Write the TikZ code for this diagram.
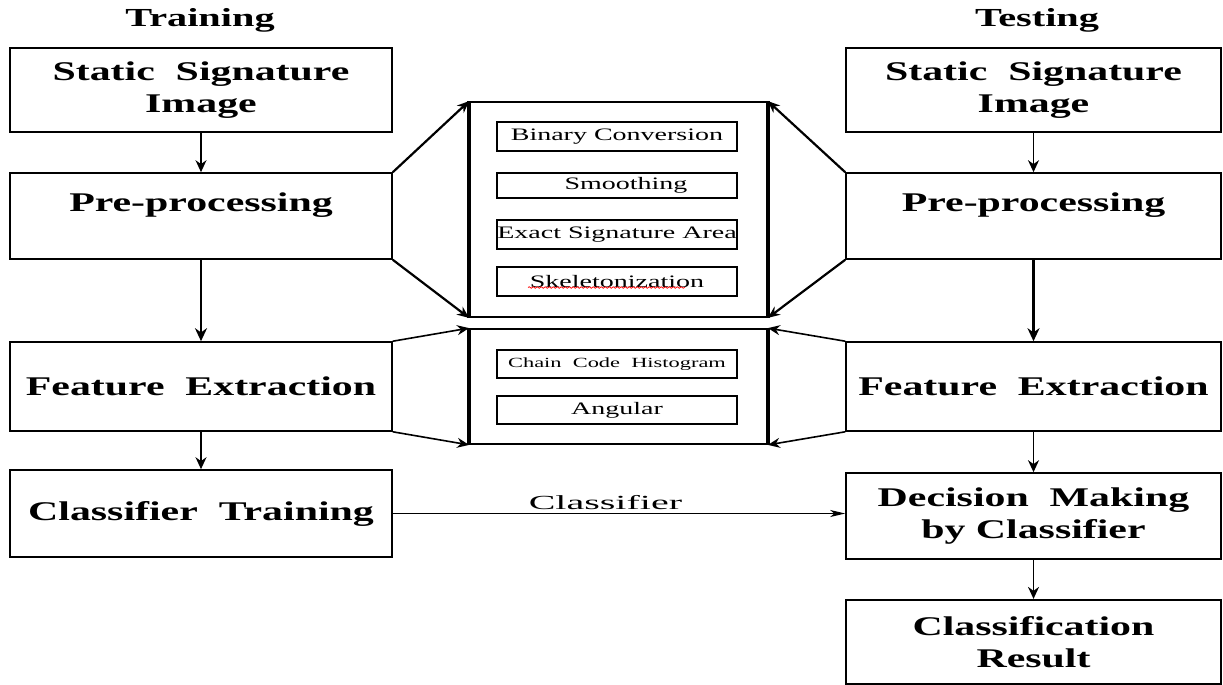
\documentclass[tikz,border=0pt]{standalone}
\usepackage{fontspec}
\setmainfont{Liberation Serif}
\newfontfamily\boxfont{Liberation Serif}[FakeStretch=1.55]
\newfontfamily\subfont{Liberation Serif}[FakeStretch=1.6]
\newfontfamily\lblfont{Liberation Serif}[FakeStretch=2.0]
\usetikzlibrary{arrows.meta,decorations.pathmorphing}

\tikzset{
  stage/.style={draw, line width=1.6pt, inner sep=0pt, align=center,
    font=\boxfont\bfseries\fontsize{27}{32}\selectfont},
  lstage/.style={stage, minimum width=382pt},
  rstage/.style={stage, minimum width=375pt},
  stagetext/.style={inner sep=0pt, align=center,
    font=\boxfont\bfseries\fontsize{27}{32}\selectfont},
  heading/.style={inner sep=0pt, anchor=base,
    font=\boxfont\bfseries\fontsize{26}{30}\selectfont},
  panel/.style={draw, line width=1.8pt, minimum width=297pt, inner sep=0pt},
  panelside/.style={line width=3.6pt},
  substep/.style={draw, line width=1.3pt, minimum width=240pt, inner sep=0pt,
    font=\subfont\fontsize{17.5}{20}\selectfont},
  flow/.style={line width=1.6pt, -{Stealth[length=12pt,width=11pt]}},
  thickflow/.style={line width=2.6pt, -{Stealth[length=13pt,width=12pt]}},
  fan/.style={line width=2.2pt, -{Stealth[length=12pt,width=10pt]}},
  handover/.style={line width=1.1pt, -{Stealth[length=15pt,width=7pt,inset=4pt]}},
}

\begin{document}
\begin{tikzpicture}[x=1pt,y=-1pt]
\useasboundingbox (0,0) rectangle (1223,685);

% column headings
\node[heading] (htrain) at (200,27) {Training};
\node[heading] (htest)  at (1037,27) {Testing};

% training column
\node[lstage, minimum height=84pt] (lsig)   at (201,90)    {Static~ Signature\\Image};
\node[lstage, minimum height=86pt] (lpre)   at (201,216)   {};
\node[stagetext] (lpretxt) at ([yshift=11pt]lpre.center) {Pre-processing};
\node[lstage, minimum height=89pt] (lfeat)  at (201,386.5) {Feature~ Extraction};
\node[lstage, minimum height=87pt] (ltrain) at (201,513.5) {Classifier~ Training};

% testing column
\node[rstage, minimum height=84pt] (rsig)  at (1033.5,90)    {Static~ Signature\\Image};
\node[rstage, minimum height=86pt] (rpre)  at (1033.5,216)   {};
\node[stagetext] (rpretxt) at ([yshift=11pt]rpre.center) {Pre-processing};
\node[rstage, minimum height=89pt] (rfeat) at (1033.5,386.5) {Feature~ Extraction};
\node[rstage, minimum height=86pt] (rdec)  at (1033.5,516)   {Decision~ Making\\by Classifier};
\node[rstage, minimum height=84pt, line width=2.2pt] (rres) at (1033.5,642) {Classification\\Result};

% shared pre-processing panel
\node[panel, minimum height=215pt] (pp) at (618.5,209.5) {};
\draw[panelside] (pp.north west) -- (pp.south west);
\draw[panelside] (pp.north east) -- (pp.south east);
\node[substep, minimum height=29pt] (bin) at (617,136.5) {Binary Conversion};
\node[substep, minimum height=25pt] (smo) at (617,185.5) {\hspace*{18pt}Smoothing};
\node[substep, minimum height=29pt] (exa) at (617,234.5) {Exact Signature Area};
\node[substep, minimum height=29pt] (ske) at (617,281.5) {Skeletonization};
\draw[red, line width=0.7pt, decorate,
      decoration={snake, amplitude=0.8pt, segment length=4pt}]
  ([xshift=-89pt,yshift=-6pt]ske.center) -- ([xshift=68pt,yshift=-6pt]ske.center);

% shared feature extraction panel
\node[panel, minimum height=115pt] (fp) at (618.5,386.5) {};
\draw[panelside] (fp.north west) -- (fp.south west);
\draw[panelside] (fp.north east) -- (fp.south east);
\node[substep, minimum height=28pt, font=\subfont\fontsize{14}{17}\selectfont] (cch) at (617,364) {Chain~ Code~ Histogram};
\node[substep, minimum height=28pt] (ang) at (617,410) {Angular};

% vertical flow
\draw[flow] (lsig) -- (lpre);
\draw[thickflow] (lpre) -- (lfeat);
\draw[flow] (lfeat) -- (ltrain);
\draw[flow] (rsig) -- (rpre);
\draw[thickflow] (rpre) -- (rfeat);
\draw[flow] (rfeat) -- (rdec);
\draw[flow] (rdec) -- (rres);

% fans into the shared panels
\draw[fan] (lpre.north east) -- (pp.north west);
\draw[fan] (lpre.south east) -- (pp.south west);
\draw[fan] (rpre.north west) -- (pp.north east);
\draw[fan] (rpre.south west) -- (pp.south east);
\draw[fan, line width=1.6pt] (lfeat.north east) -- (fp.north west);
\draw[fan, line width=1.6pt] (lfeat.south east) -- (fp.south west);
\draw[fan, line width=1.6pt] (rfeat.north west) -- (fp.north east);
\draw[fan, line width=1.6pt] (rfeat.south west) -- (fp.south east);

% trained classifier handed to the testing side
\draw[handover] (ltrain.east) -- node[pos=0.47, above=3pt, inner sep=0pt,
  font=\lblfont\fontsize{20}{24}\selectfont] (clbl) {Classifier} (ltrain.east -| rdec.west);
\end{tikzpicture}
\end{document}
